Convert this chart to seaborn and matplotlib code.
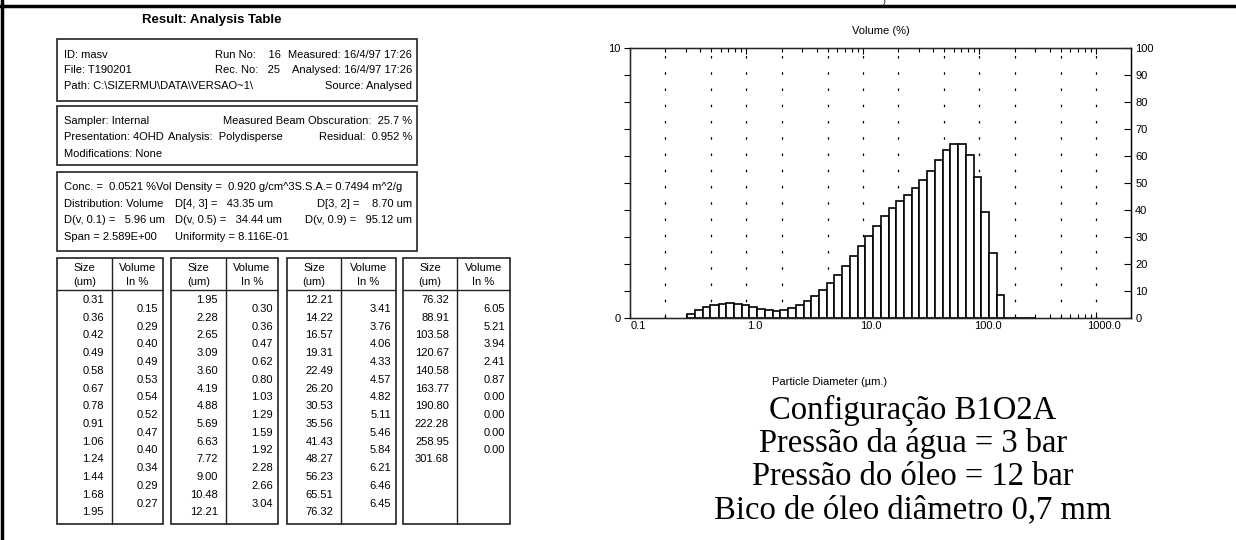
import matplotlib.pyplot as plt
import matplotlib.transforms as mtransforms
from matplotlib.patches import Rectangle
from matplotlib.ticker import FixedLocator, NullFormatter
import seaborn as sns
import numpy as np

# bin edges (um) and volume in each bin (%), as printed in the analysis table
size_um = [0.31, 0.36, 0.42, 0.49, 0.58, 0.67, 0.78, 0.91, 1.06, 1.24, 1.44, 1.68, 1.95,
           2.28, 2.65, 3.09, 3.60, 4.19, 4.88, 5.69, 6.63, 7.72, 9.00, 10.48, 12.21,
           14.22, 16.57, 19.31, 22.49, 26.20, 30.53, 35.56, 41.43, 48.27, 56.23, 65.51, 76.32,
           88.91, 103.58, 120.67, 140.58, 163.77, 190.80, 222.28, 258.95, 301.68]
volume_pct = [0.15, 0.29, 0.40, 0.49, 0.53, 0.54, 0.52, 0.47, 0.40, 0.34, 0.29, 0.27,
              0.30, 0.36, 0.47, 0.62, 0.80, 1.03, 1.29, 1.59, 1.92, 2.28, 2.66, 3.04,
              3.41, 3.76, 4.06, 4.33, 4.57, 4.82, 5.11, 5.46, 5.84, 6.21, 6.46, 6.45,
              6.05, 5.21, 3.94, 2.41, 0.87, 0.00, 0.00, 0.00, 0.00]

x_ticks = [0.1, 1, 10, 100, 1000]
x_ticklabels = ["0.1", "1.0", "10.0", "100.0", "1000.0"]
grid_at = [0.2, 0.5, 1, 2, 5, 10, 20, 50, 100, 200, 500, 1000]

caption = ["Configuração B1O2A", "Pressão da água = 3 bar",
           "Pressão do óleo = 12 bar", "Bico de óleo diâmetro 0,7 mm"]

box1_left = ["ID: masv", "File: T190201", "Path: C:\\SIZERMU\\DATA\\VERSAO~1\\"]
box1_mid = ["Run No:    16", "Rec. No:   25", ""]
box1_right = ["Measured: 16/4/97 17:26", "Analysed: 16/4/97 17:26", "Source: Analysed"]

box2_left = ["Sampler: Internal", "Presentation: 4OHD", "Modifications: None"]
box2_mid = ["", "Analysis:  Polydisperse", ""]
box2_right = ["Measured Beam Obscuration:  25.7 %", "Residual:  0.952 %", ""]

box3_left = ["Conc. =  0.0521 %Vol", "Distribution: Volume", "D(v, 0.1) =   5.96 um", "Span = 2.589E+00"]
box3_mid = ["Density =  0.920 g/cm^3S.S.A.= 0.7494 m^2/g", "D[4, 3] =   43.35 um",
            "D(v, 0.5) =   34.44 um", "Uniformity = 8.116E-01"]
box3_right = ["", "D[3, 2] =    8.70 um", "D(v, 0.9) =   95.12 um", ""]

sns.set_style("white")
plt.rcParams['font.family'] = ['Liberation Sans', 'DejaVu Sans']
plt.rcParams['text.color'] = 'black'
plt.rcParams['xtick.color'] = 'black'
plt.rcParams['ytick.color'] = 'black'
plt.rcParams['axes.labelcolor'] = 'black'

fig = plt.figure(figsize=(12.36, 5.4), dpi=100)

# full-page layer in pixel coordinates for the table and frame
bg = fig.add_axes([0, 0, 1, 1])
bg.set_xlim(0, 1236)
bg.set_ylim(540, 0)
bg.axis('off')

bg.plot([2, 2], [0, 540], color='black', lw=2.5)
bg.plot([0, 1236], [6, 6], color='black', lw=2.5)
bg.text(884, 5, ")", fontsize=6, ha='center', va='bottom')

fs = 8
bg.text(212, 20, "Result: Analysis Table", fontsize=9.5, fontweight='bold', ha='center', va='center')


def box(y0, y1, left, mid, right, rows, mid_x):
    bg.add_patch(Rectangle((57, y0), 360, y1 - y0, fill=False, ec='#222222', lw=1.2))
    for i, y in enumerate(rows):
        bg.text(64, y, left[i], fontsize=fs, va='center')
        bg.text(mid_x, y, mid[i], fontsize=fs, va='center')
        bg.text(412, y, right[i], fontsize=fs, va='center', ha='right')


box(39, 101, box1_left, box1_mid, box1_right, [55, 70, 86], 215)
box(106, 165, box2_left, box2_mid, box2_right, [121, 137, 154], 168)
box(172, 251, box3_left, box3_mid, box3_right, [187, 204, 220, 237], 175)

# size / volume tables
tables = [(57, 112, 163, 0, 13, 0, 12), (171, 226, 278, 12, 25, 12, 24),
          (287, 341, 396, 24, 37, 24, 36), (403, 457, 510, 36, 46, 36, 45)]
row_h = 17.7
for x0, xm, x1, s0, s1, v0, v1 in tables:
    bg.add_patch(Rectangle((x0, 258), x1 - x0, 524 - 258, fill=False, ec='#222222', lw=1.2))
    bg.plot([xm, xm], [258, 524], color='#222222', lw=1)
    bg.plot([x0, x1], [290, 290], color='#222222', lw=1)
    bg.text((x0 + xm) / 2, 268, "Size", fontsize=fs, ha='center', va='center')
    bg.text((x0 + xm) / 2, 282, "(um)", fontsize=fs, ha='center', va='center')
    bg.text((xm + x1) / 2, 268, "Volume", fontsize=fs, ha='center', va='center')
    bg.text((xm + x1) / 2, 282, "In %", fontsize=fs, ha='center', va='center')
    for i, s in enumerate(size_um[s0:s1]):
        bg.text(xm - 8, 300 + i * row_h, f"{s:.2f}", fontsize=fs, ha='right', va='center')
    for i, v in enumerate(volume_pct[v0:v1]):
        bg.text(x1 - 5, 300 + row_h / 2 + i * row_h, f"{v:.2f}", fontsize=fs, ha='right', va='center')

# histogram
ax = fig.add_axes([630 / 1236, 1 - 318 / 540, 501 / 1236, 270 / 540])
edges = np.array(size_um)
mids = np.sqrt(edges[:-1] * edges[1:])
sns.histplot(x=mids, weights=volume_pct, bins=list(np.log10(edges)), log_scale=True, stat='count',
             color='white', edgecolor='black', linewidth=1.2, alpha=1, ax=ax)

for g in grid_at:
    ax.axvline(g, color='black', lw=0.9, linestyle=(0, (2, 11)), zorder=0)

ax.set_xlim(0.1, 2000)
ax.set_ylim(0, 10)
ax.set_xticks(x_ticks)
ax.set_xticklabels(x_ticklabels)
ax.xaxis.set_minor_locator(FixedLocator([m * d for d in [0.1, 1, 10, 100, 1000] for m in range(2, 10)
                                         if m * d < 2000]))
ax.xaxis.set_minor_formatter(NullFormatter())
ax.tick_params(axis='x', which='both', direction='in', top=True, bottom=True,
               labelsize=8, pad=2, length=4, width=0.8)
ax.tick_params(axis='x', which='minor', length=3)
shift = mtransforms.ScaledTranslation(8 / 100, 0, fig.dpi_scale_trans)
for lab in ax.get_xticklabels():
    lab.set_transform(lab.get_transform() + shift)

ax.set_yticks(range(11))
ax.set_yticklabels(['0'] + [''] * 9 + ['10'])
ax.tick_params(axis='y', direction='out', length=4, width=0.8, labelsize=8, pad=3, left=True)
ax.set_xlabel("")
ax.set_ylabel("")
for sp in ax.spines.values():
    sp.set_color('black')
    sp.set_linewidth(1)

ax2 = ax.twinx()
ax2.set_ylim(0, 100)
ax2.set_yticks(range(0, 101, 10))
ax2.tick_params(axis='y', direction='in', length=5, width=0.8, labelsize=8, pad=3, right=True)
ax2.spines['right'].set_color('black')

ax.set_title("Volume (%)", fontsize=8, pad=10)
bg.text(830, 382, "Particle Diameter (µm.)", fontsize=8, ha='center', va='center')

for i, line in enumerate(caption):
    bg.text(913, 410 + i * 33.5, line, fontsize=23.5, ha='center', va='center',
            family=['Liberation Serif', 'DejaVu Serif'])

plt.savefig("out.png", dpi=100)
plt.close()
